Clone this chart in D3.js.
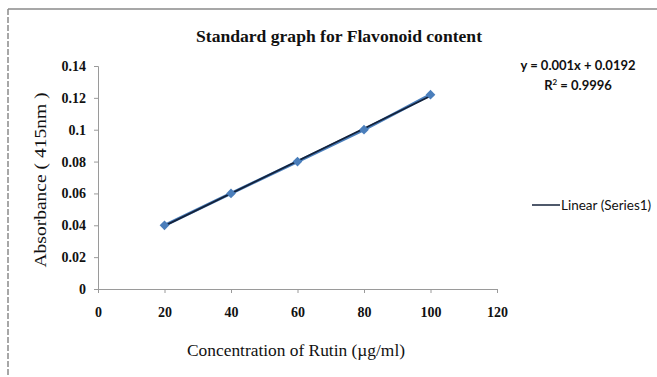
<!DOCTYPE html>
<html>
<head>
<meta charset="utf-8">
<script src="https://cdn.jsdelivr.net/npm/d3@7"></script>
<style>
  body { margin: 0; background: #fff; }
  svg { display: block; }
</style>
</head>
<body>
<svg id="chart" width="657" height="377"></svg>
<script>
// data
const concentration = [20, 40, 60, 80, 100]
const absorbance = [0.04, 0.06, 0.08, 0.1, 0.122]
const xTicks = [0, 20, 40, 60, 80, 100, 120]
const yTicks = [0, 0.02, 0.04, 0.06, 0.08, 0.1, 0.12, 0.14]

const titleText = "Standard graph for Flavonoid content"
const xTitle = "Concentration of Rutin (\u00b5g/ml)"
const yTitle = "Absorbance ( 415nm )"
const equationText = "y = 0.001x + 0.0192"
const legendText = "Linear (Series1)"

const svg = d3.select("#chart")

// chart frame (only top/left visible in the reference)
svg.append("line")
    .attr("x1", 8).attr("y1", 9).attr("x2", 657).attr("y2", 9)
    .attr("stroke", "#8a8a8a").attr("stroke-width", 1.5)
svg.append("line")
    .attr("x1", 8).attr("y1", 9).attr("x2", 8).attr("y2", 377)
    .attr("stroke", "#8a8a8a").attr("stroke-width", 1.5)
    .attr("stroke-dasharray", "6,2")

const x = d3.scaleLinear().domain([0, 120]).range([98, 497])
const y = d3.scaleLinear().domain([0, 0.14]).range([289, 66])

// axes
const xAxis = svg.append("g")
    .attr("transform", `translate(0,${y(0)})`)
    .call(d3.axisBottom(x).tickValues(xTicks).tickSize(4).tickPadding(14).tickFormat(d3.format("d")))
const yAxis = svg.append("g")
    .attr("transform", `translate(${x(0)},0)`)
    .call(d3.axisLeft(y).tickValues(yTicks).tickSize(4).tickPadding(8).tickFormat(d => d === 0 ? "0" : String(+d.toFixed(2))))

for (const ax of [xAxis, yAxis]) {
    ax.select(".domain").attr("stroke", "#9a9a9a")
    ax.selectAll(".tick line").attr("stroke", "#9a9a9a")
    ax.selectAll(".tick text")
        .attr("fill", "#111")
        .attr("font-family", "Liberation Serif, serif")
        .attr("font-weight", "bold")
        .attr("font-size", "14px")
}

// data series line
const line = d3.line()
    .x(d => x(d[0]))
    .y(d => y(d[1]))
const pts = concentration.map((c, i) => [c, absorbance[i]])

svg.append("path")
    .datum(pts)
    .attr("d", line)
    .attr("fill", "none")
    .attr("stroke", "#4a7ebb")
    .attr("stroke-width", 3)

// linear trendline from least squares
const mx = d3.mean(concentration), my = d3.mean(absorbance)
const slope = d3.sum(pts, d => (d[0] - mx) * (d[1] - my)) / d3.sum(concentration, c => (c - mx) ** 2)
const intercept = my - slope * mx
const trend = [concentration[0], concentration[concentration.length - 1]].map(c => [c, slope * c + intercept])

svg.append("path")
    .datum(trend)
    .attr("d", line)
    .attr("fill", "none")
    .attr("stroke", "#14223a")
    .attr("stroke-width", 1.8)

// diamond markers
svg.selectAll(".marker")
    .data(pts)
    .enter().append("path")
    .attr("class", "marker")
    .attr("d", d3.symbol().type(d3.symbolDiamond2).size(60))
    .attr("transform", d => `translate(${x(d[0])},${y(d[1])})`)
    .attr("fill", "#4a7ebb")

// title
svg.append("text")
    .text(titleText)
    .attr("x", 339).attr("y", 42)
    .attr("text-anchor", "middle")
    .attr("font-family", "Liberation Serif, serif")
    .attr("font-weight", "bold")
    .attr("font-size", "16px")
    .attr("textLength", 286)
    .attr("lengthAdjust", "spacingAndGlyphs")
    .attr("fill", "#111")

// axis titles
svg.append("text")
    .text(xTitle)
    .attr("x", 296).attr("y", 356)
    .attr("text-anchor", "middle")
    .attr("font-family", "Liberation Serif, serif")
    .attr("font-size", "17px")
    .attr("textLength", 218)
    .attr("lengthAdjust", "spacingAndGlyphs")
    .attr("fill", "#111")

svg.append("text")
    .text(yTitle)
    .attr("transform", "translate(46,180) rotate(-90)")
    .attr("text-anchor", "middle")
    .attr("font-family", "Liberation Serif, serif")
    .attr("font-size", "17px")
    .attr("textLength", 175)
    .attr("lengthAdjust", "spacingAndGlyphs")
    .attr("fill", "#111")

// trendline equation
const eq = svg.append("text")
    .attr("text-anchor", "middle")
    .attr("font-family", "Lato, 'Open Sans', sans-serif")
    .attr("font-weight", "bold")
    .attr("font-size", "13px")
    .attr("fill", "#111")
eq.append("tspan").attr("x", 578).attr("y", 70).text(equationText)
const r2 = eq.append("tspan").attr("x", 578).attr("y", 90)
r2.append("tspan").text("R")
r2.append("tspan").attr("dy", -5).attr("font-size", "8px").text("2")
r2.append("tspan").attr("dy", 5).text(" = 0.9996")

// legend
svg.append("line")
    .attr("x1", 532).attr("x2", 560)
    .attr("y1", 205).attr("y2", 205)
    .attr("stroke", "#14223a")
    .attr("stroke-width", 1.5)
svg.append("text")
    .text(legendText)
    .attr("x", 561).attr("y", 210)
    .attr("font-family", "Lato, 'Open Sans', sans-serif")
    .attr("font-size", "13.5px")
    .attr("fill", "#111")
</script>
</body>
</html>
